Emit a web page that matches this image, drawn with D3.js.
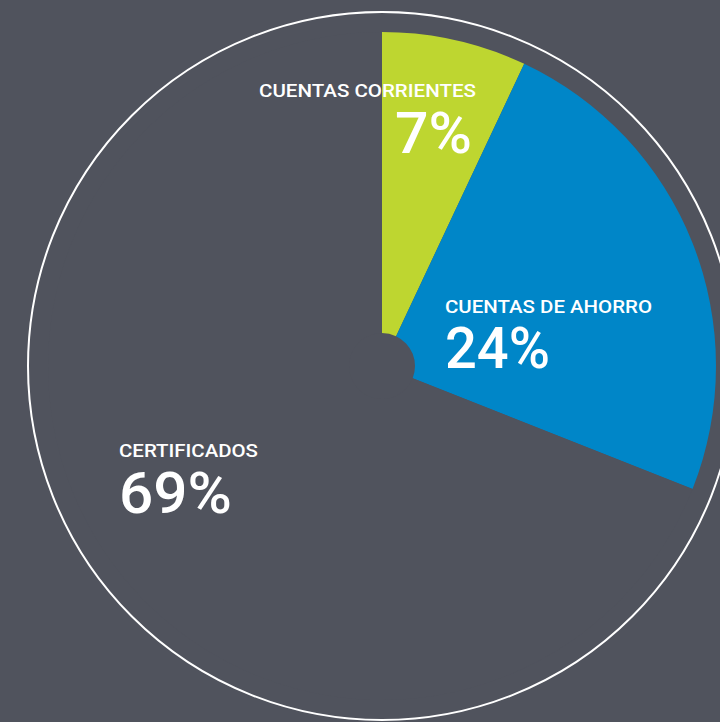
<!DOCTYPE html>
<html>
<head>
<meta charset="utf-8">
<script src="https://cdn.jsdelivr.net/npm/d3@7"></script>
<style>
  html, body { margin: 0; padding: 0; background: #50535d; }
  svg { display: block; }
</style>
</head>
<body>
<div id="chart"></div>
<script>
// Distribución de depósitos por producto
const categories = ["CUENTAS CORRIENTES", "CUENTAS DE AHORRO", "CERTIFICADOS"];
const values = [7, 24, 69];
const colors = ["#bed630", "#0086c8", "#50535d"];

const width = 720, height = 722;
const cx = 382, cy = 366;
const outerR = 334, innerR = 33, ringR = 354;

// label anchors (left edge / baselines), relative to the pie centre
const labelLayout = [
  { dx: -123, titleY: -269, numX: 13, numY: -213, titleLen: 217, numLen: 77 },
  { dx: 63,   titleY: -53,  numX: 63, numY: 2,    titleLen: 207, numLen: 105 },
  { dx: -263, titleY: 91,   numX: -263, numY: 147, titleLen: 139, numLen: 113 }
];

const svg = d3.select("#chart").append("svg")
  .attr("width", width)
  .attr("height", height);

svg.append("rect")
  .attr("width", width)
  .attr("height", height)
  .attr("fill", "#50535d");

const g = svg.append("g").attr("transform", `translate(${cx},${cy})`);

// outer white ring
g.append("circle")
  .attr("r", ringR)
  .attr("fill", "none")
  .attr("stroke", "#ffffff")
  .attr("stroke-width", 2);

const pie = d3.pie().sort(null).value(d => d.value);
const arc = d3.arc().innerRadius(innerR).outerRadius(outerR);

const data = categories.map((c, i) => ({ name: c, value: values[i], color: colors[i] }));

g.selectAll("path.slice")
  .data(pie(data))
  .join("path")
  .attr("class", "slice")
  .attr("d", arc)
  .attr("fill", d => d.data.color);

const labels = g.selectAll("g.label")
  .data(data)
  .join("g")
  .attr("class", "label");

labels.append("text")
  .attr("x", (d, i) => labelLayout[i].dx)
  .attr("y", (d, i) => labelLayout[i].titleY)
  .attr("textLength", (d, i) => labelLayout[i].titleLen)
  .attr("lengthAdjust", "spacingAndGlyphs")
  .attr("fill", "#ffffff")
  .attr("font-family", "Roboto, 'Open Sans', sans-serif")
  .attr("font-weight", 500)
  .attr("font-size", 18.5)
  .text(d => d.name);

labels.append("text")
  .attr("x", (d, i) => labelLayout[i].numX)
  .attr("y", (d, i) => labelLayout[i].numY)
  .attr("textLength", (d, i) => labelLayout[i].numLen)
  .attr("lengthAdjust", "spacingAndGlyphs")
  .attr("fill", "#ffffff")
  .attr("font-family", "Roboto, 'Open Sans', sans-serif")
  .attr("font-weight", 500)
  .attr("font-size", 58)
  .text(d => d.value + "%");
</script>
</body>
</html>
